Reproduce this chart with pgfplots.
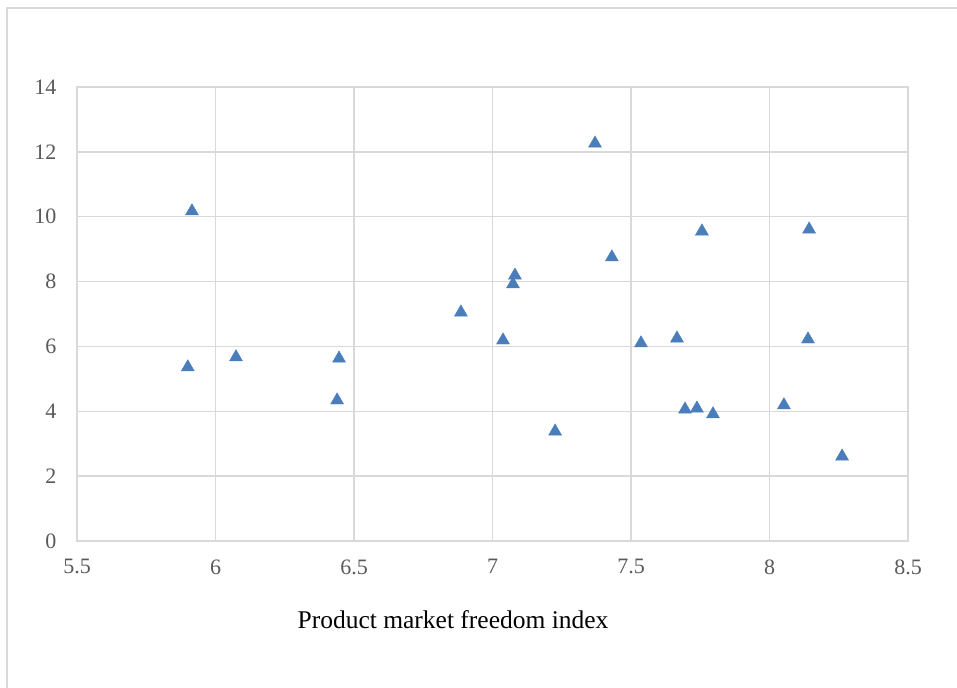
\documentclass[border=0pt]{standalone}
\usepackage{pgfplots}
\pgfplotsset{compat=1.18}
\usepackage{fontspec}
\setmainfont{Liberation Serif}
\definecolor{gridc}{HTML}{D9D9D9}
\definecolor{tickc}{HTML}{595959}
\definecolor{markc}{HTML}{4A7EBB}
\begin{document}
\begin{tikzpicture}
\useasboundingbox (0,0) rectangle (957bp,688bp);
\draw[gridc, line width=2bp] (7bp,-5bp) -- (7bp,680bp) -- (965bp,680bp);
\begin{axis}[
  at={(77bp,147bp)}, anchor=south west,
  scale only axis, width=831bp, height=454bp,
  xmin=5.5, xmax=8.5, ymin=0, ymax=14,
  xtick={5.5,6,6.5,7,7.5,8,8.5},
  ytick={0,2,4,6,8,10,12,14},
  xticklabels={5.5,6,6.5,7,7.5,8,8.5},
  yticklabels={0,2,4,6,8,10,12,14},
  grid=major,
  grid style={gridc, line width=1.3bp},
  axis line style={gridc, line width=1.3bp},
  major tick length=0pt,
  tick label style={font=\fontsize{22bp}{26bp}\selectfont, text=tickc},
  xticklabel style={yshift=-15bp},
  yticklabel style={xshift=-17bp},
  xlabel={Product market freedom index},
  xlabel style={font=\fontsize{25.5bp}{30bp}\selectfont, text=black, at={(axis description cs:0.4525,0)}, anchor=center, yshift=-79bp},
]
\addplot[only marks, mark=triangle*, mark size=7.5bp, color=markc] coordinates {
(5.915,10.17) (5.900,5.36) (6.074,5.67) (6.446,5.63) (6.439,4.34)
(6.886,7.05) (7.038,6.19) (7.074,7.92) (7.081,8.19) (7.226,3.38)
(7.370,12.26) (7.431,8.75) (7.536,6.10) (7.666,6.25) (7.695,4.06)
(7.738,4.09) (7.796,3.91) (7.756,9.55) (8.052,4.19) (8.143,9.61)
(8.139,6.22) (8.262,2.61)
};
\end{axis}
\end{tikzpicture}
\end{document}
